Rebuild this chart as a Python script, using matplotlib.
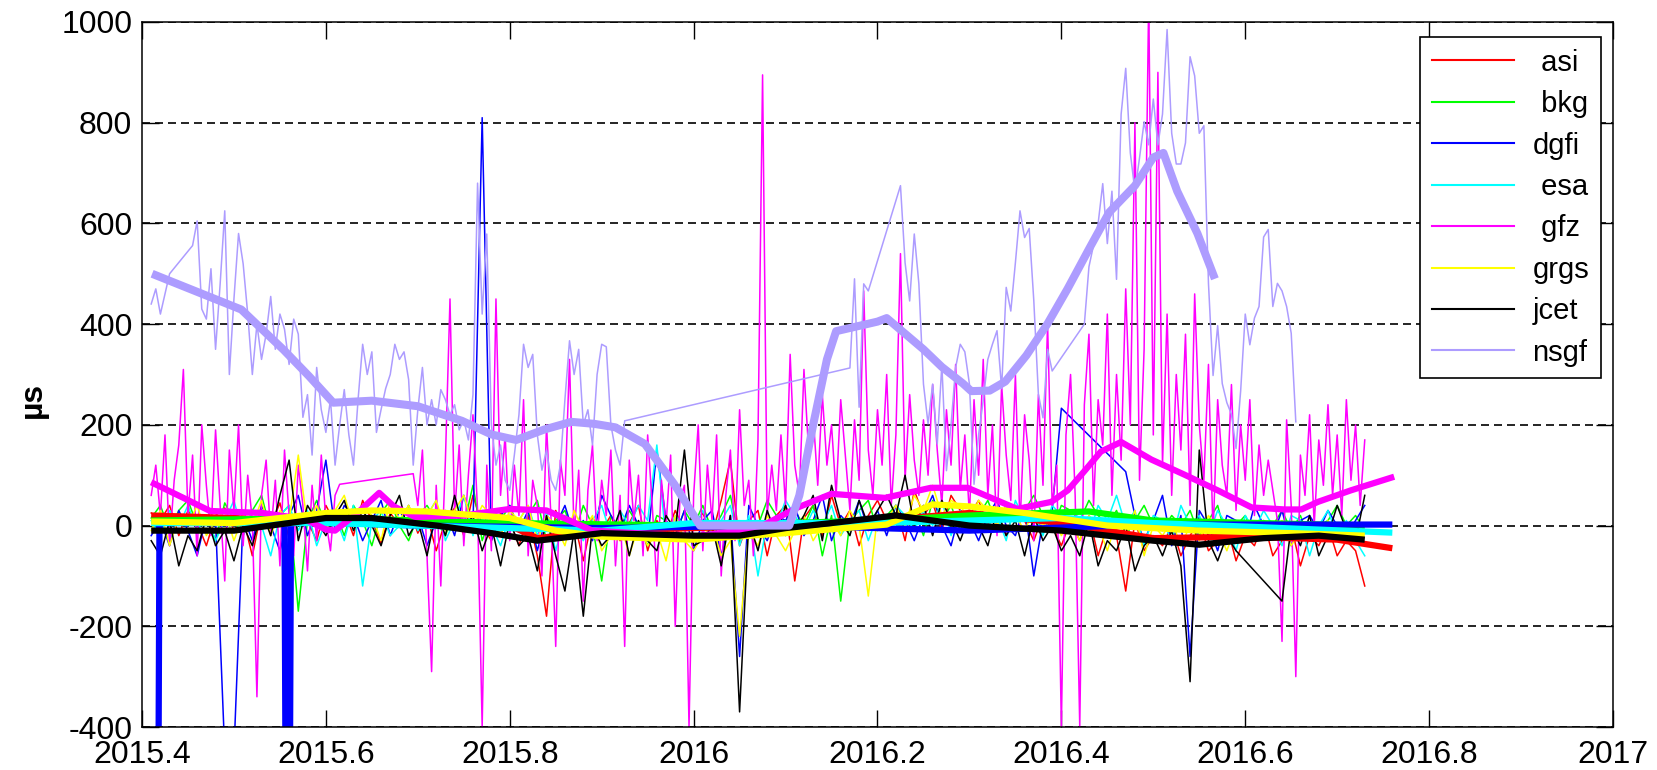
import numpy as np
import matplotlib
matplotlib.use("Agg")
import matplotlib.pyplot as plt

plt.rcParams['font.family'] = ['Liberation Sans', 'DejaVu Sans']
plt.rcParams['axes.unicode_minus'] = False

# ---------------- data ----------------
DT = 0.01        # sampling of the clustered series (years)
DT_FINE = 0.005  # sampling of gfz / nsgf

names = ['asi', 'bkg', 'dgfi', 'esa', 'gfz', 'grgs', 'jcet', 'nsgf']
legend_labels = [' asi', ' bkg', 'dgfi', ' esa', ' gfz', 'grgs', 'jcet', 'nsgf']
colors = ['#ff0000', '#00ff00', '#0000ff', '#00ffff', '#ff00ff', '#ffff00', '#000000', '#ad9cff']

xticks = [2015.4, 2015.6, 2015.8, 2016.0, 2016.2, 2016.4, 2016.6, 2016.8, 2017.0]
xtick_labels = ['2015.4', '2015.6', '2015.8', '2016', '2016.2', '2016.4', '2016.6', '2016.8', '2017']
yticks = [-400, -200, 0, 200, 400, 600, 800, 1000]

# raw series, as segments (start epoch, values)
asi_raw = [(2015.41, [25, 10, 40, -20, 30, 5, -40, 20, 35, -10,
                      15, -60, 30, 0, 45, -25, 20, 10, -30, 40,
                      5, 30, -20, 50, 10, -35, 25, 0, 40, -15,
                      20, -50, 10, 35, -20, 60, 0, -30, 25, 10,
                      -40, 20, -60, -180, 30, -20, 10, -70, 15, -10,
                      20, -30, 5, 40, -50, 10, -20, 30, -10, 0,
                      25, -20, 50, 130, -40, 10, 30, -60, 20, 40,
                      -110, 15, 40, -20, 60, 0, 30, -40, 20, 50,
                      10, 40, -30, 70, 20, 45, -10, 60, 30, 20,
                      50, 0, 30, -20, 40, 10, -30, 20, 0, -40,
                      10, -30, 20, -60, 0, -20, -130, 10, -50, -20,
                      -40, 0, -60, -20, 10, -50, -30, 0, -70, -20,
                      -40, 10, -60, -30, 0, -80, -20, -40, 0, -60,
                      -30, -50, -120])]

bkg_raw = [(2015.41, [15, 40, -10, 30, 50, 0, 20, -30, 45, 10,
                      -20, 30, 60, -10, 20, 40, -170, 10, 50, 0,
                      30, -20, 40, 10, -40, 25, 50, 0, -30, 20,
                      40, 10, -20, 30, 0, 80, -30, 20, 10, 40,
                      -10, 20, 50, -30, 10, 30, -20, 40, 0, -110,
                      20, -10, 30, 0, -40, 20, 10, -20, 30, 0,
                      40, -10, 20, 60, -30, 10, 0, 50, 20, -20,
                      30, 0, 40, -60, 20, -150, 10, 30, 50, -10,
                      20, 40, 0, 30, -20, 50, 10, 40, -10, 30,
                      20, 50, 0, 40, 10, 30, 60, 20, -10, 40,
                      30, 10, 50, 20, 0, 30, -20, 10, 40, 0,
                      -10, 20, 0, 30, -20, 10, 40, -30, 0, 20,
                      -20, 10, 0, 30, -10, 20, -30, 0, 10, 40,
                      0, 20, -10])]

dgfi_raw = [(2015.41, [-20, 10, -40, 30, -10, -60, 20, 10, -450, -450,
                       20, -30, 40, 0, -50, 20, 60, -20, 30, 130,
                       -10, 40, 20, -30, 10, 50, -20, 30, 0, 20,
                       -40, 10, 30, -20, 60, 0, 810, -30, 20, 40,
                       -10, 30, -50, 20, 0, 40, -20, 10, -30, 60,
                       20, -10, 40, 0, -30, 150, 10, -20, 30, -50,
                       10, 30, -60, 20, -260, 40, 0, -30, 20, 10,
                       40, -20, 10, 60, -30, 20, 0, 50, -10, 30,
                       -20, 40, 10, -30, 20, 60, 0, -40, 30, 10,
                       -30, 20, 50, 0, -20, 40, -100, 10, 30, 233]),
            (2016.47, [107, 20, -30, 10, 60, -40, 20, -260, 30, 0,
                       -50, 20, 10, -30, 40, 0, -20, 30, -40, 10,
                       20, -10, 30, 0, -20, 10, 40])]

esa_raw = [(2015.41, [10, -20, 30, 0, 40, -10, 20, -30, 10, 50,
                      -20, 30, 0, -60, 20, 40, -10, 30, -40, 10,
                      20, -30, 40, -120, 10, 30, -20, 0, 40, -10,
                      20, 50, -30, 10, 60, -20, 30, 0, -40, 20,
                      10, 40, -20, 30, -50, 20, 0, -30, 10, 40,
                      -20, 30, 0, 40, 10, 160, -30, 20, 0, -10,
                      30, -20, 10, 40, -40, 20, -100, 10, 0, 50,
                      20, -10, 30, 0, 40, -20, 10, 30, -30, 20,
                      0, 40, 20, -10, 30, 0, 50, -20, 30, 10,
                      40, 0, 20, -30, 50, 10, 30, -20, 40, 20,
                      0, 30, -20, 40, 10, 60, 0, 30, -40, 20,
                      10, -30, 40, 0, 20, -20, 30, 0, -50, 20,
                      -10, 30, 0, -40, 20, 10, -60, 0, 30, -20,
                      10, -30, -60])]

grgs_raw = [(2015.41, [-10, 30, -40, 20, 0, 40, -20, 10, 30, -30,
                       20, 0, 50, -20, 30, 10, 140, 0, 40, -10,
                       30, 60, 0, 40, 20, -30, 50, 10, 40, 0,
                       20, 50, -10, 30, 60, 0, 40, 20, -20, 30,
                       10, 40, -30, 20, 0, -40, 30, -10, 20, -50,
                       -20, 10, -60, 0, -40, -10, -70, 20, -30, -50,
                       -20, 0, -60, -30, -220, -10, -40, 20, -20, -50,
                       -10, 20, -30, 0, 10, -20, 30, 0, -140, 20,
                       10, 40, 0, 60, 30, 80, 20, 50, 40, 10,
                       50, 30, 0, 40, 20, -10, 30, 0, 20, -20,
                       10, -30, 20, 0, -50, 10, -20, 30, -60, 0,
                       -20, 10, -40, 0, -30, 20, -10, -50, 0, -20,
                       -30, 0, -20, 10, -40, -10, 0, -30, 10, -20,
                       -10, -30, 0])]

jcet_raw = [(2015.41, [-30, -60, 10, -80, -20, -50, 20, -40, -10, -70,
                       0, -40, 30, -20, 60, 130, -30, 40, 10, -20,
                       20, 50, -10, 30, 0, -40, 20, 60, -20, 10,
                       -60, 30, -20, 60, -10, 20, -50, 0, -80, 10,
                       -40, -20, -90, 20, -60, -130, -10, -180, 0, -40,
                       -20, 30, -60, 10, -30, -50, 20, -10, 150, -40,
                       -30, 0, -80, 20, -370, 10, -50, 30, -20, 40,
                       -10, 20, 60, -30, 80, 10, -20, 50, 0, 30,
                       60, 20, 100, 0, 40, -20, 50, 10, -30, 20,
                       0, -40, 30, -20, 10, -60, 20, -30, 0, -50,
                       -20, -60, 10, -80, -30, -50, 0, -90, -40, -20,
                       -60, -10, -80, -310, 150, -30, -70, -20, -50]),
            (2016.64, [-150, 0, -40, 20, -60, -20, 40, -10, -30, 60])]

gfz_raw = [(2015.41, [60, 120, 20, 180, -40, 90, 160, 310, 20, 140,
                      -60, 200, 80, -20, 190, 40, -110, 150, 30, 200,
                      -40, 100, 10, -340, 60, 130, -20, 90, -80, 150,
                      20, -60, 120, 40, -90, 80, -30, 140, 10, -50,
                      60, 82]),
           (2015.695, [103, 40, 150, -60, -290, 80, -120, 130, 450, 20,
                       160, -40, 100, 220, 30, -400, 120, -50, 450, 60,
                       180, -30, 120, 20, 250, -60, 90, 40, -100, 200,
                       10, -240, 130, 60, 330, -20, 110, -150, 70, 160,
                       -30, 90, 20, 150, -80, 60, -240, 130, 10, 100,
                       -60, 180, 40, -120, 90, 0, 140, -200, 50, 80,
                       -400, 60, 200, -50, 120, 10, 180, -100, 60, 150,
                       -30, 230, 40, 90, -60, 170, 895, 20, 120, 30,
                       180, 40, 340, 120, 60, 310, 150, 220, 80, 260,
                       120, 200, 60, 250, 140, 30, 210, 90, 466, 150,
                       60, 230, 120, 300, 40, 180, 540, 90, 260, 130,
                       60, 210, 100, 280, 150, 40, 230, 120, 320, 70,
                       180, 20, 250, 100, 330, 60, 200, -20, 280, 140,
                       50, 300, 0, 220, 130, -30, 260, 80, 400, 40,
                       120, -400, 180, 300, 60, -400, 240, 380, 40, 250,
                       160, 420, 60, 300, 130, 470, 200, 800, 90, 350,
                       1050, 180, 900, 120, 420, 60, 300, 150, 380, 40,
                       460, 200, 90, 320, -20, 250, 120, 60, 280, 30,
                       200, 90, 250, 20, 160, 60, 130, 70, 10, -230,
                       210, 40, -300, 140, 60, 220, 0, 170, 80, 240,
                       60, 180, 20, 250, 90, 200, 40, 170])]

nsgf_raw = [(2015.41, [440, 470, 420, 460, 500]),
            (2015.455, [556, 605, 430, 410, 510, 350, 480, 625, 300, 450,
                        580, 520, 420, 300, 400, 330, 380, 455, 350, 420,
                        390, 320, 410, 380, 215, 260, 140, 314, 230, 185,
                        250, 120, 200, 270, 180, 120, 250, 360, 300, 345,
                        185, 230, 272, 300, 360, 330, 345, 290, 120, 230,
                        314, 200, 250, 200, 270, 250, 220, 240, 190, 210,
                        170, 260, 680, 420, 579, 200, 120, 160, 90, 70,
                        140, 220, 360, 314, 340, 180, 110, 150, 90, 70,
                        120, 250, 367, 300, 350, 200, 230, 160, 300, 360,
                        355, 200, 150, 120, 208]),
            (2016.17, [313, 490, 235, 480, 466]),
            (2016.225, [675, 522, 446, 579, 480, 281, 202, 281, 162, 320,
                        109, 200, 314, 360, 345, 281, 82, 181, 248, 330,
                        360, 387, 272, 473, 426, 522, 625, 572, 590, 447,
                        261, 214, 350, 307]),
            (2016.425, [400, 514, 557, 600, 679, 560, 664, 489, 817, 908,
                        740, 664, 730, 802, 756, 847, 756, 817, 985, 779,
                        718, 718, 760, 931, 893, 779, 794, 481, 298, 397,
                        282, 244, 221, 153, 267, 420, 359, 412, 435, 573,
                        588, 435, 481, 466, 435, 382, 206])]

# smoothed curves (node epochs, values)
asi_fit_t = [2015.41, 2015.5, 2015.6, 2015.7, 2015.8, 2015.83, 2015.9, 2016.0, 2016.1,
             2016.2, 2016.3, 2016.4, 2016.5, 2016.6, 2016.7, 2016.76]
asi_fit_v = [20, 15, 5, 10, 0, -25, -10, -5, 0, 10, 25, 5, -25, -22, -28, -45]
bkg_fit_t = [2015.41, 2015.6, 2015.8, 2016.0, 2016.2, 2016.3, 2016.43, 2016.5, 2016.73]
bkg_fit_v = [10, 15, 5, 0, 10, 20, 28, 10, 0]
dgfi_fit_t = [2015.410, 2015.417, 2015.419, 2015.555, 2015.557, 2015.560, 2015.562,
              2015.7, 2015.9, 2016.1, 2016.3, 2016.5, 2016.76]
dgfi_fit_v = [-900, -900, 5, 5, -900, -900, 8, 0, -5, 0, -10, 2, 2]
esa_fit_t = [2015.41, 2015.6, 2015.8, 2015.9, 2016.0, 2016.2, 2016.4, 2016.5, 2016.6, 2016.76]
esa_fit_v = [5, 5, -5, -10, 5, 5, 15, 5, -2, -14]
gfz_fit_t = [2015.41, 2015.445, 2015.474, 2015.531, 2015.577, 2015.6, 2015.61, 2015.633,
             2015.658, 2015.674, 2015.697, 2015.75, 2015.8, 2015.84, 2015.89, 2016.0,
             2016.07, 2016.112, 2016.15, 2016.208, 2016.258, 2016.298, 2016.352, 2016.389,
             2016.407, 2016.425, 2016.443, 2016.465, 2016.498, 2016.534, 2016.57, 2016.607,
             2016.643, 2016.661, 2016.679, 2016.715, 2016.762]
gfz_fit_v = [86, 55, 29, 25, 13, -8, -10, 23, 65, 38, 17, 20, 33, 30, -10, -22,
             -5, 35, 63, 55, 75, 75, 33, 47, 70, 108, 147, 166, 131, 101, 70, 36,
             32, 32, 47, 70, 97]
grgs_fit_t = [2015.41, 2015.5, 2015.6, 2015.65, 2015.71, 2015.8, 2015.85, 2015.9, 2016.0,
              2016.1, 2016.21, 2016.26, 2016.3, 2016.36, 2016.45, 2016.55, 2016.65, 2016.73]
grgs_fit_v = [8, 5, 25, 30, 28, 15, -10, -22, -28, -15, 2, 42, 38, 25, 0, -10, -15, -20]
jcet_fit_t = [2015.41, 2015.5, 2015.6, 2015.65, 2015.72, 2015.78, 2015.83, 2015.9, 2016.0,
              2016.05, 2016.1, 2016.15, 2016.22, 2016.3, 2016.4, 2016.5, 2016.55, 2016.62,
              2016.68, 2016.73]
jcet_fit_v = [-10, -10, 15, 15, 0, -15, -30, -15, -20, -20, -5, 5, 20, 0, -10, -30,
              -38, -25, -20, -28]
nsgf_fit_t = [2015.411, 2015.508, 2015.554, 2015.582, 2015.608, 2015.65, 2015.70, 2015.748,
              2015.78, 2015.807, 2015.838, 2015.867, 2015.892, 2015.915, 2015.947, 2015.979,
              2016.007, 2016.05, 2016.104, 2016.115, 2016.13, 2016.145, 2016.155, 2016.2,
              2016.21, 2016.25, 2016.27, 2016.293, 2016.302, 2016.322, 2016.339, 2016.362,
              2016.385, 2016.407, 2016.43, 2016.452, 2016.48, 2016.5, 2016.511, 2016.526,
              2016.548, 2016.567]
nsgf_fit_v = [500, 429, 349, 296, 244, 248, 237, 208, 181, 170, 191, 206, 202, 195, 162, 82,
              0, 0, 0, 60, 200, 330, 386, 405, 412, 350, 315, 282, 267, 268, 286, 338,
              401, 471, 549, 622, 675, 731, 740, 664, 580, 490]


def build(segments, step):
    t, v = [], []
    for t0, vals in segments:
        t.extend(t0 + step * np.arange(len(vals)))
        v.extend(vals)
    return np.array(t), np.array(v, dtype=float)


raw = [build(asi_raw, DT), build(bkg_raw, DT), build(dgfi_raw, DT), build(esa_raw, DT),
       build(gfz_raw, DT_FINE), build(grgs_raw, DT), build(jcet_raw, DT),
       build(nsgf_raw, DT_FINE)]
fits = [(asi_fit_t, asi_fit_v), (bkg_fit_t, bkg_fit_v), (dgfi_fit_t, dgfi_fit_v),
        (esa_fit_t, esa_fit_v), (gfz_fit_t, gfz_fit_v), (grgs_fit_t, grgs_fit_v),
        (jcet_fit_t, jcet_fit_v), (nsgf_fit_t, nsgf_fit_v)]

# ---------------- plot ----------------
fig = plt.figure(figsize=(16.58, 7.70), dpi=100)
ax = fig.add_axes([0.08565, 0.05584, 0.8872, 0.9156])

handles = []
for (t, v), c, lab in zip(raw, colors, legend_labels):
    h, = ax.plot(t, v, color=c, lw=1.1, label=lab)
    handles.append(h)

for (t, v), c, n in zip(fits, colors, names):
    ax.plot(t, v, color=c, lw=5.8 if n == 'nsgf' else 4.5, solid_capstyle='butt')

ax.set_xlim(2015.4, 2017.0)
ax.set_ylim(-400, 1000)
ax.set_xticks(xticks)
ax.set_xticklabels(xtick_labels)
ax.set_yticks(yticks)
ax.tick_params(direction='in', length=12, width=1, top=True, right=True,
               labelsize=23, colors='black')
ax.tick_params(axis='x', pad=9.5)
ax.tick_params(axis='y', pad=7)

ax.set_axisbelow(True)
ax.yaxis.grid(True, color='black', lw=1.2, linestyle=(0, (4.8, 3.0)))

for s in ax.spines.values():
    s.set_linewidth(1.1)

ax.set_ylabel('µs', fontsize=23, fontweight='bold')
ax.yaxis.set_label_coords(-0.064, 0.464)

leg = ax.legend(handles=handles, loc='upper right', bbox_to_anchor=(0.9918, 0.9787),
                borderaxespad=0, fontsize=21, handlelength=2.8, handletextpad=0.65,
                labelspacing=0.46, borderpad=0.4, fancybox=False, framealpha=1)
leg.get_frame().set_edgecolor('black')
leg.get_frame().set_linewidth(1.2)
for lh in leg.get_lines():
    lh.set_linewidth(1.5)

fig.savefig('out.png', dpi=100)
